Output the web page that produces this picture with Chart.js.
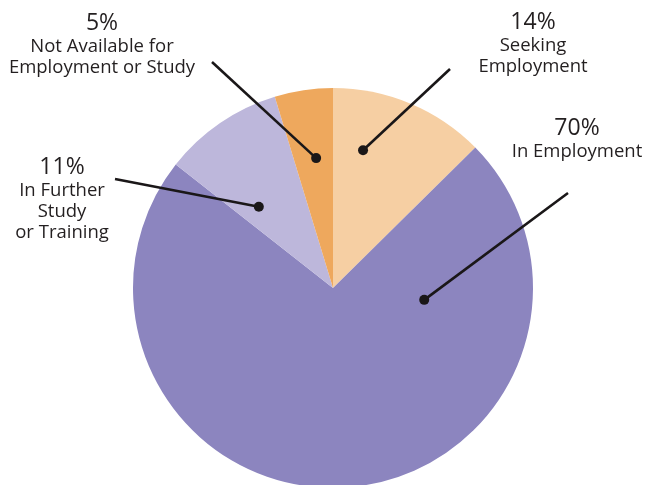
<!DOCTYPE html>
<html>
<head>
<meta charset="utf-8">
<script src="https://cdn.jsdelivr.net/npm/chart.js@4"></script>
<style>
  html, body { margin: 0; padding: 0; background: #fff; overflow: hidden; }
  #wrap { width: 646px; height: 492px; }
</style>
</head>
<body>
<div id="wrap"><canvas id="pie" width="646" height="492"></canvas></div>
<script>
// Slices, clockwise from 12 o'clock
const categories = ['Seeking Employment', 'In Employment', 'In Further Study or Training', 'Not Available for Employment or Study'];
// share of the circle as drawn in the picture (degrees / 3.6)
const shares = [12.6, 73.0, 9.7, 4.7];
// percentage text printed in the labels
const pctLabels = ['14%', '70%', '11%', '5%'];
const labelLines = [
    ['Seeking', 'Employment'],
    ['In Employment'],
    ['In Further', 'Study', 'or Training'],
    ['Not Available for', 'Employment or Study']
];
const colours = ['#F6CFA3', '#8C85BF', '#BDB7DB', '#EEA85D'];

// callout layout: dot (angle from top in deg, fraction of radius), line end and text anchor in px
const callouts = [
    { deg: 12.3, frac: 0.705, end: [450, 69],  text: [533, 29] },
    { deg: 97.4, frac: 0.46,  end: [568, 193], text: [577, 135] },
    { deg: 317.6, frac: 0.55, end: [115, 179], text: [62, 174] },
    { deg: 352.6, frac: 0.655, end: [212, 62], text: [102, 30] }
];

const calloutPlugin = {
    id: 'callouts',
    afterDraw(chart) {
        const ctx = chart.ctx;
        const arcs = chart.getDatasetMeta(0).data;
        ctx.save();
        callouts.forEach((c, i) => {
            const arc = arcs[i];
            const a = c.deg * Math.PI / 180;
            const dx = arc.x + Math.sin(a) * arc.outerRadius * c.frac;
            const dy = arc.y - Math.cos(a) * arc.outerRadius * c.frac;

            ctx.strokeStyle = '#1a1718';
            ctx.lineWidth = 2.6;
            ctx.beginPath();
            ctx.moveTo(c.end[0], c.end[1]);
            ctx.lineTo(dx, dy);
            ctx.stroke();

            ctx.fillStyle = '#1a1718';
            ctx.beginPath();
            ctx.arc(dx, dy, 5, 0, Math.PI * 2);
            ctx.fill();

            ctx.fillStyle = '#231f20';
            ctx.textAlign = 'center';
            ctx.textBaseline = 'alphabetic';
            ctx.font = '23px "Open Sans"';
            ctx.fillText(pctLabels[i], c.text[0], c.text[1]);
            ctx.font = '18.5px "Open Sans"';
            labelLines[i].forEach((line, j) => {
                ctx.fillText(line, c.text[0], c.text[1] + 22 + j * 21);
            });
        });
        ctx.restore();
    }
};

new Chart(document.getElementById('pie'), {
    type: 'pie',
    data: {
        labels: categories,
        datasets: [{
            data: shares,
            backgroundColor: colours,
            borderWidth: 0
        }]
    },
    options: {
        responsive: false,
        animation: false,
        layout: { padding: { left: 133, right: 113, top: 88, bottom: 4 } },
        plugins: {
            legend: { display: false },
            tooltip: { enabled: false }
        }
    },
    plugins: [calloutPlugin]
});
</script>
</body>
</html>
